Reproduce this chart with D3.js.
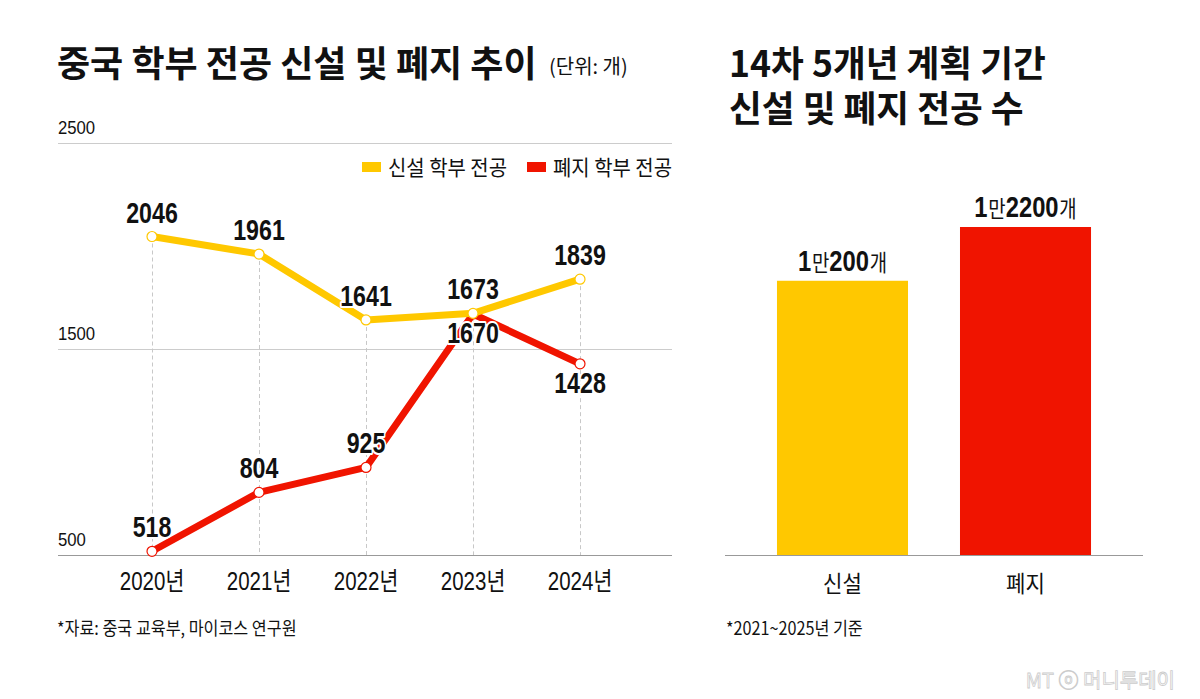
<!DOCTYPE html>
<html>
<head>
<meta charset="utf-8">
<script src="https://cdn.jsdelivr.net/npm/d3@7"></script>
<style>
  body { margin: 0; background: #fff; }
  svg { display: block; }
  .kr { font-family: "Noto Sans CJK KR", "Noto Sans", sans-serif; }
  .num { font-family: "Liberation Sans", Arial, "Noto Sans CJK KR", sans-serif; }
</style>
</head>
<body>
<div id="chart"></div>
<script>
const years = ["2020년", "2021년", "2022년", "2023년", "2024년"];
const newMajors = [2046, 1961, 1641, 1673, 1839];
const closedMajors = [518, 804, 925, 1670, 1428];
const newLabelPos = ["top", "top", "top", "top", "top"];
const closedLabelPos = ["top", "top", "top", "bottom", "bottom"];
const yTicks = [500, 1500, 2500];

const barCats = ["신설", "폐지"];
const barValues = [10200, 12200];
const barLabels = [["1", "만", "200", "개"], ["1", "만", "2200", "개"]];
const rightTitle = ["14차 5개년 계획 기간", "신설 및 폐지 전공 수"];

const YELLOW = "#ffc800";
const RED = "#f01400";

const W = 1200, H = 699;
const svg = d3.select("#chart").append("svg").attr("width", W).attr("height", H);

// condensed text: translate + horizontal squeeze
function ctext(parent, x, y, sx) {
  return parent.append("text").attr("transform", `translate(${x},${y}) scale(${sx},1)`);
}

// titles
ctext(svg, 57, 77, 1.0).attr("class", "kr")
  .attr("font-size", 36).attr("font-weight", 700).attr("fill", "#111")
  .text("중국 학부 전공 신설 및 폐지 추이");
ctext(svg, 549, 74, 1.0).attr("class", "kr")
  .attr("font-size", 20).attr("fill", "#111").text("(단위: 개)");

const rt = ctext(svg, 729, 77, 0.99).attr("class", "kr")
  .attr("font-size", 36).attr("font-weight", 700).attr("fill", "#111");
rt.selectAll("tspan").data(rightTitle).join("tspan")
  .attr("x", 0).attr("dy", (d, i) => i === 0 ? 0 : 45).text(d => d);

// ---- line chart ----
const x = d3.scalePoint().domain(years).range([152, 580]);
const y = d3.scaleLinear().domain([500, 2500]).range([555, 143]);

const lg = svg.append("g");

lg.selectAll(".grid").data(yTicks).join("line")
  .attr("x1", 58).attr("x2", 672)
  .attr("y1", d => y(d) + 0.5).attr("y2", d => y(d) + 0.5)
  .attr("stroke", d => d === 500 ? "#999" : "#ccc").attr("stroke-width", 1);

yTicks.forEach(t => {
  ctext(lg, 58, y(t) - 9, 0.88).attr("class", "num")
    .attr("font-size", 19).attr("fill", "#111").text(t);
});

// dashed verticals
lg.selectAll(".vline").data(years).join("line")
  .attr("x1", d => x(d) + 0.5).attr("x2", d => x(d) + 0.5)
  .attr("y1", (d, i) => y(Math.max(newMajors[i], closedMajors[i])))
  .attr("y2", y(500))
  .attr("stroke", "#c8c8c8").attr("stroke-dasharray", "4,3").attr("stroke-width", 1);

// x labels
years.forEach(yr => {
  ctext(lg, x(yr), 590, 0.82).attr("class", "num")
    .attr("text-anchor", "middle").attr("font-size", 25).attr("fill", "#111")
    .text(yr);
});

const line = d3.line().x((d, i) => x(years[i])).y(d => y(d));

function drawSeries(values, color) {
  lg.append("path").datum(values).attr("d", line)
    .attr("fill", "none").attr("stroke", color).attr("stroke-width", 7)
    .attr("stroke-linejoin", "round").attr("stroke-linecap", "round");
  lg.append("g").selectAll("circle").data(values).join("circle")
    .attr("cx", (d, i) => x(years[i])).attr("cy", d => y(d)).attr("r", 5)
    .attr("fill", "#fff").attr("stroke", color).attr("stroke-width", 1.2);
}
function drawLabels(values, pos) {
  values.forEach((d, i) => {
    const ly = pos[i] === "top" ? y(d) - 14 : y(d) + 29;
    ctext(lg, x(years[i]), ly, 0.8).attr("class", "num")
      .attr("text-anchor", "middle").attr("font-size", 29).attr("font-weight", 700)
      .attr("fill", "#111").attr("stroke", "#fff").attr("stroke-width", 4)
      .attr("paint-order", "stroke").attr("stroke-linejoin", "round")
      .text(d);
  });
}
drawSeries(closedMajors, RED);
drawSeries(newMajors, YELLOW);
drawLabels(closedMajors, closedLabelPos);
drawLabels(newMajors, newLabelPos);

// legend
const legend = [["신설 학부 전공", YELLOW, 362], ["폐지 학부 전공", RED, 527]];
legend.forEach(([t, c, lx]) => {
  svg.append("rect").attr("x", lx).attr("y", 162).attr("width", 19).attr("height", 10).attr("fill", c);
  ctext(svg, lx + 26, 175, 0.95).attr("class", "kr")
    .attr("font-size", 21).attr("fill", "#111").text(t);
});

ctext(svg, 57, 635, 0.9).attr("class", "kr")
  .attr("font-size", 18).attr("fill", "#111").text("*자료: 중국 교육부, 마이코스 연구원");

// ---- bar chart ----
const bx = d3.scaleBand().domain(barCats).range([725, 1143]).paddingInner(0.284).paddingOuter(0.284);
const by = d3.scaleLinear().domain([0, 12200]).range([555, 227]);

svg.selectAll(".bar").data(barValues).join("rect")
  .attr("x", (d, i) => bx(barCats[i])).attr("width", bx.bandwidth())
  .attr("y", d => by(d)).attr("height", d => by(0) - by(d))
  .attr("fill", (d, i) => i === 0 ? YELLOW : RED);

svg.append("line").attr("x1", 725).attr("x2", 1143).attr("y1", 555.5).attr("y2", 555.5)
  .attr("stroke", "#999");

barValues.forEach((v, i) => {
  const t = ctext(svg, bx(barCats[i]) + bx.bandwidth() / 2, by(v) - 10, 0.82)
    .attr("text-anchor", "middle").attr("fill", "#111");
  barLabels[i].forEach((s, k) => {
    const isNum = k % 2 === 0;
    t.append("tspan").attr("class", isNum ? "num" : "kr")
      .attr("font-size", isNum ? 29 : 23).attr("font-weight", isNum ? 700 : 400)
      .attr("dx", isNum ? 0 : 1)
      .text(s);
  });
});

barCats.forEach(c => {
  ctext(svg, bx(c) + bx.bandwidth() / 2, 592, 0.92).attr("class", "kr")
    .attr("text-anchor", "middle").attr("font-size", 23).attr("fill", "#111").text(c);
});

ctext(svg, 726, 635, 0.9).attr("class", "kr")
  .attr("font-size", 18).attr("fill", "#111").text("*2021~2025년 기준");

// watermark
svg.append("text").attr("class", "kr").attr("x", 1175).attr("y", 688)
  .attr("text-anchor", "end").attr("font-size", 20).attr("fill", "#fff")
  .attr("stroke", "#ccc").attr("stroke-width", 0.8).text("MT ⓞ 머니투데이");
</script>
</body>
</html>
